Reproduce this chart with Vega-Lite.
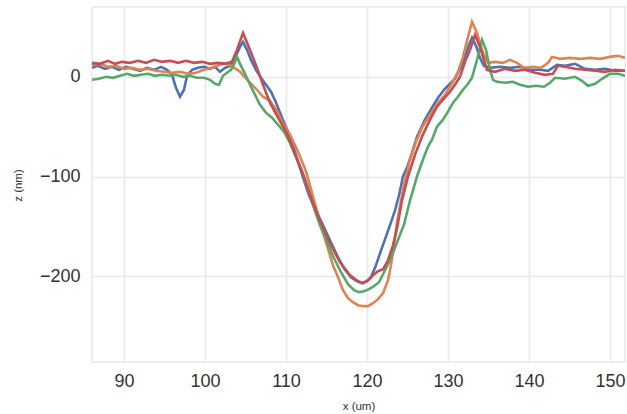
{
  "$schema": "https://vega.github.io/schema/vega-lite/v6.json",
  "width": 533,
  "height": 355,
  "autosize": "none",
  "padding": {"left": 92, "top": 7, "right": 2, "bottom": 52},
  "background": "white",
  "config": {
    "view": {"stroke": "#E8E8F0", "strokeWidth": 1.5},
    "axis": {
      "domain": false, "ticks": false, "grid": true,
      "gridColor": "#E8E8F0", "gridWidth": 1.6,
      "labelFont": "Liberation Sans", "labelFontSize": 18, "labelColor": "#333333",
      "titleFont": "Liberation Sans", "titleFontSize": 11.5, "titleFontWeight": "normal", "titleColor": "#333333"
    }
  },
  "data": {"values": [
    {"s":"b","x":86.05,"z":9},{"s":"b","x":86.79,"z":11},{"s":"b","x":87.65,"z":8},{"s":"b","x":88.52,"z":10},{"s":"b","x":89.38,"z":7},{"s":"b","x":90.25,"z":10},{"s":"b","x":91.11,"z":8},{"s":"b","x":91.98,"z":6},{"s":"b","x":92.84,"z":9},{"s":"b","x":93.70,"z":7},{"s":"b","x":94.57,"z":10},{"s":"b","x":95.31,"z":7},{"s":"b","x":95.93,"z":2},{"s":"b","x":96.42,"z":-11},{"s":"b","x":96.91,"z":-20},{"s":"b","x":97.41,"z":-13},{"s":"b","x":97.78,"z":1},{"s":"b","x":98.40,"z":7},{"s":"b","x":99.14,"z":9},{"s":"b","x":99.88,"z":10},{"s":"b","x":100.62,"z":8},{"s":"b","x":101.23,"z":10},{"s":"b","x":101.85,"z":5},{"s":"b","x":102.47,"z":9},{"s":"b","x":103.09,"z":11},{"s":"b","x":103.70,"z":19},{"s":"b","x":104.32,"z":30},{"s":"b","x":104.69,"z":35},{"s":"b","x":105.19,"z":27},{"s":"b","x":105.68,"z":17},{"s":"b","x":106.30,"z":7},{"s":"b","x":106.91,"z":-1},{"s":"b","x":107.53,"z":-8},{"s":"b","x":108.15,"z":-15},{"s":"b","x":108.77,"z":-26},{"s":"b","x":109.51,"z":-41},{"s":"b","x":110.25,"z":-55},{"s":"b","x":111.11,"z":-75},{"s":"b","x":111.98,"z":-98},{"s":"b","x":112.84,"z":-119},{"s":"b","x":113.70,"z":-134},{"s":"b","x":114.57,"z":-149},{"s":"b","x":115.43,"z":-164},{"s":"b","x":116.30,"z":-179},{"s":"b","x":117.16,"z":-192},{"s":"b","x":118.02,"z":-201},{"s":"b","x":118.77,"z":-205},{"s":"b","x":119.38,"z":-207},{"s":"b","x":120.00,"z":-205},{"s":"b","x":120.49,"z":-201},{"s":"b","x":121.11,"z":-189},{"s":"b","x":121.73,"z":-174},{"s":"b","x":122.35,"z":-160},{"s":"b","x":122.96,"z":-146},{"s":"b","x":123.46,"z":-134},{"s":"b","x":123.95,"z":-119},{"s":"b","x":124.44,"z":-100},{"s":"b","x":124.94,"z":-91},{"s":"b","x":125.56,"z":-76},{"s":"b","x":126.17,"z":-60},{"s":"b","x":127.16,"z":-43},{"s":"b","x":128.02,"z":-31},{"s":"b","x":128.77,"z":-21},{"s":"b","x":129.51,"z":-13},{"s":"b","x":130.25,"z":-7},{"s":"b","x":130.86,"z":-2},{"s":"b","x":131.48,"z":8},{"s":"b","x":132.10,"z":20},{"s":"b","x":132.59,"z":32},{"s":"b","x":132.96,"z":39},{"s":"b","x":133.46,"z":31},{"s":"b","x":133.95,"z":19},{"s":"b","x":134.44,"z":11},{"s":"b","x":135.19,"z":9},{"s":"b","x":136.42,"z":10},{"s":"b","x":137.65,"z":9},{"s":"b","x":138.89,"z":10},{"s":"b","x":140.12,"z":7},{"s":"b","x":141.36,"z":7},{"s":"b","x":142.35,"z":6},{"s":"b","x":143.46,"z":12},{"s":"b","x":144.44,"z":11},{"s":"b","x":145.68,"z":13},{"s":"b","x":146.91,"z":8},{"s":"b","x":148.15,"z":7},{"s":"b","x":149.38,"z":8},{"s":"b","x":150.62,"z":6},{"s":"b","x":151.85,"z":6},

    {"s":"o","x":86.05,"z":12},{"s":"o","x":87.04,"z":13},{"s":"o","x":88.02,"z":10},{"s":"o","x":89.01,"z":11},{"s":"o","x":90.00,"z":8},{"s":"o","x":90.99,"z":9},{"s":"o","x":91.98,"z":7},{"s":"o","x":92.96,"z":8},{"s":"o","x":93.95,"z":6},{"s":"o","x":94.94,"z":5},{"s":"o","x":95.93,"z":4},{"s":"o","x":96.91,"z":5},{"s":"o","x":97.90,"z":3},{"s":"o","x":98.89,"z":4},{"s":"o","x":99.88,"z":7},{"s":"o","x":100.86,"z":9},{"s":"o","x":101.85,"z":12},{"s":"o","x":102.72,"z":14},{"s":"o","x":103.46,"z":10},{"s":"o","x":104.32,"z":5},{"s":"o","x":105.56,"z":-6},{"s":"o","x":106.42,"z":-13},{"s":"o","x":107.16,"z":-20},{"s":"o","x":108.02,"z":-24},{"s":"o","x":108.77,"z":-33},{"s":"o","x":109.51,"z":-45},{"s":"o","x":110.49,"z":-58},{"s":"o","x":111.48,"z":-75},{"s":"o","x":112.47,"z":-95},{"s":"o","x":113.33,"z":-120},{"s":"o","x":114.20,"z":-146},{"s":"o","x":115.06,"z":-169},{"s":"o","x":115.80,"z":-189},{"s":"o","x":116.42,"z":-201},{"s":"o","x":117.04,"z":-214},{"s":"o","x":117.65,"z":-222},{"s":"o","x":118.27,"z":-226},{"s":"o","x":118.89,"z":-229},{"s":"o","x":119.51,"z":-230},{"s":"o","x":120.12,"z":-230},{"s":"o","x":120.74,"z":-227},{"s":"o","x":121.36,"z":-223},{"s":"o","x":121.98,"z":-217},{"s":"o","x":122.59,"z":-204},{"s":"o","x":122.96,"z":-189},{"s":"o","x":123.33,"z":-169},{"s":"o","x":123.70,"z":-146},{"s":"o","x":124.20,"z":-124},{"s":"o","x":124.69,"z":-104},{"s":"o","x":125.31,"z":-83},{"s":"o","x":126.05,"z":-65},{"s":"o","x":126.79,"z":-51},{"s":"o","x":127.78,"z":-38},{"s":"o","x":128.77,"z":-26},{"s":"o","x":129.63,"z":-18},{"s":"o","x":130.49,"z":-7},{"s":"o","x":131.23,"z":5},{"s":"o","x":131.85,"z":20},{"s":"o","x":132.47,"z":40},{"s":"o","x":132.96,"z":55},{"s":"o","x":133.58,"z":44},{"s":"o","x":134.32,"z":24},{"s":"o","x":134.94,"z":14},{"s":"o","x":135.80,"z":15},{"s":"o","x":136.79,"z":14},{"s":"o","x":137.65,"z":17},{"s":"o","x":138.52,"z":14},{"s":"o","x":139.38,"z":9},{"s":"o","x":140.49,"z":10},{"s":"o","x":141.48,"z":9},{"s":"o","x":142.35,"z":14},{"s":"o","x":142.84,"z":20},{"s":"o","x":143.83,"z":18},{"s":"o","x":145.06,"z":19},{"s":"o","x":146.30,"z":18},{"s":"o","x":147.53,"z":19},{"s":"o","x":148.77,"z":18},{"s":"o","x":150.00,"z":20},{"s":"o","x":150.99,"z":21},{"s":"o","x":151.85,"z":19},

    {"s":"g","x":86.05,"z":-3},{"s":"g","x":86.91,"z":-2},{"s":"g","x":87.78,"z":0},{"s":"g","x":88.64,"z":-1},{"s":"g","x":89.51,"z":1},{"s":"g","x":90.37,"z":3},{"s":"g","x":91.23,"z":1},{"s":"g","x":92.10,"z":2},{"s":"g","x":92.96,"z":3},{"s":"g","x":93.83,"z":1},{"s":"g","x":94.69,"z":2},{"s":"g","x":95.56,"z":1},{"s":"g","x":96.42,"z":2},{"s":"g","x":97.28,"z":0},{"s":"g","x":98.15,"z":1},{"s":"g","x":99.01,"z":-1},{"s":"g","x":99.88,"z":-1},{"s":"g","x":100.62,"z":-3},{"s":"g","x":101.23,"z":-7},{"s":"g","x":101.73,"z":-8},{"s":"g","x":102.22,"z":1},{"s":"g","x":102.72,"z":4},{"s":"g","x":103.21,"z":7},{"s":"g","x":103.70,"z":15},{"s":"g","x":103.95,"z":20},{"s":"g","x":104.44,"z":11},{"s":"g","x":104.94,"z":3},{"s":"g","x":105.56,"z":-8},{"s":"g","x":106.17,"z":-18},{"s":"g","x":106.79,"z":-28},{"s":"g","x":107.53,"z":-36},{"s":"g","x":108.27,"z":-41},{"s":"g","x":109.01,"z":-48},{"s":"g","x":109.75,"z":-55},{"s":"g","x":110.49,"z":-66},{"s":"g","x":111.23,"z":-80},{"s":"g","x":111.98,"z":-95},{"s":"g","x":112.72,"z":-114},{"s":"g","x":113.46,"z":-132},{"s":"g","x":114.20,"z":-149},{"s":"g","x":115.06,"z":-166},{"s":"g","x":115.93,"z":-182},{"s":"g","x":116.79,"z":-196},{"s":"g","x":117.65,"z":-208},{"s":"g","x":118.40,"z":-214},{"s":"g","x":119.01,"z":-216},{"s":"g","x":119.63,"z":-215},{"s":"g","x":120.25,"z":-213},{"s":"g","x":120.86,"z":-210},{"s":"g","x":121.48,"z":-206},{"s":"g","x":122.10,"z":-196},{"s":"g","x":122.72,"z":-186},{"s":"g","x":123.33,"z":-174},{"s":"g","x":123.95,"z":-161},{"s":"g","x":124.57,"z":-148},{"s":"g","x":125.31,"z":-124},{"s":"g","x":126.17,"z":-100},{"s":"g","x":126.91,"z":-83},{"s":"g","x":127.53,"z":-70},{"s":"g","x":128.02,"z":-63},{"s":"g","x":128.64,"z":-50},{"s":"g","x":129.38,"z":-43},{"s":"g","x":130.00,"z":-35},{"s":"g","x":130.62,"z":-26},{"s":"g","x":131.23,"z":-20},{"s":"g","x":131.85,"z":-13},{"s":"g","x":132.47,"z":-7},{"s":"g","x":132.96,"z":-1},{"s":"g","x":133.58,"z":17},{"s":"g","x":134.20,"z":37},{"s":"g","x":134.69,"z":27},{"s":"g","x":135.19,"z":7},{"s":"g","x":135.56,"z":-3},{"s":"g","x":136.05,"z":-5},{"s":"g","x":137.04,"z":-6},{"s":"g","x":138.02,"z":-5},{"s":"g","x":138.89,"z":-8},{"s":"g","x":139.88,"z":-10},{"s":"g","x":140.86,"z":-9},{"s":"g","x":141.85,"z":-10},{"s":"g","x":142.59,"z":-6},{"s":"g","x":143.21,"z":-1},{"s":"g","x":144.44,"z":-2},{"s":"g","x":145.68,"z":0},{"s":"g","x":146.54,"z":-4},{"s":"g","x":147.28,"z":-9},{"s":"g","x":148.15,"z":-7},{"s":"g","x":149.01,"z":-2},{"s":"g","x":150.00,"z":3},{"s":"g","x":150.99,"z":3},{"s":"g","x":151.85,"z":1},

    {"s":"r","x":86.05,"z":14},{"s":"r","x":87.04,"z":13},{"s":"r","x":88.02,"z":16},{"s":"r","x":88.89,"z":13},{"s":"r","x":89.75,"z":15},{"s":"r","x":90.74,"z":14},{"s":"r","x":91.73,"z":16},{"s":"r","x":92.72,"z":14},{"s":"r","x":93.70,"z":17},{"s":"r","x":94.69,"z":15},{"s":"r","x":95.68,"z":16},{"s":"r","x":96.67,"z":14},{"s":"r","x":97.65,"z":16},{"s":"r","x":98.64,"z":14},{"s":"r","x":99.63,"z":15},{"s":"r","x":100.62,"z":13},{"s":"r","x":101.60,"z":14},{"s":"r","x":102.59,"z":13},{"s":"r","x":103.33,"z":15},{"s":"r","x":103.95,"z":27},{"s":"r","x":104.69,"z":44},{"s":"r","x":105.56,"z":27},{"s":"r","x":106.42,"z":9},{"s":"r","x":107.16,"z":-8},{"s":"r","x":108.02,"z":-26},{"s":"r","x":109.01,"z":-41},{"s":"r","x":110.00,"z":-55},{"s":"r","x":111.11,"z":-78},{"s":"r","x":112.22,"z":-100},{"s":"r","x":113.21,"z":-124},{"s":"r","x":114.20,"z":-144},{"s":"r","x":115.43,"z":-167},{"s":"r","x":116.67,"z":-186},{"s":"r","x":117.90,"z":-199},{"s":"r","x":118.89,"z":-205},{"s":"r","x":119.51,"z":-207},{"s":"r","x":120.12,"z":-204},{"s":"r","x":120.74,"z":-199},{"s":"r","x":121.36,"z":-195},{"s":"r","x":121.98,"z":-193},{"s":"r","x":122.59,"z":-184},{"s":"r","x":123.21,"z":-169},{"s":"r","x":123.70,"z":-152},{"s":"r","x":124.32,"z":-124},{"s":"r","x":125.06,"z":-100},{"s":"r","x":125.93,"z":-78},{"s":"r","x":126.79,"z":-60},{"s":"r","x":127.78,"z":-43},{"s":"r","x":128.64,"z":-30},{"s":"r","x":129.38,"z":-23},{"s":"r","x":130.25,"z":-15},{"s":"r","x":130.86,"z":-8},{"s":"r","x":131.48,"z":0},{"s":"r","x":132.10,"z":15},{"s":"r","x":132.72,"z":27},{"s":"r","x":133.33,"z":42},{"s":"r","x":133.95,"z":30},{"s":"r","x":134.44,"z":17},{"s":"r","x":134.81,"z":7},{"s":"r","x":135.80,"z":5},{"s":"r","x":137.04,"z":8},{"s":"r","x":138.27,"z":6},{"s":"r","x":139.51,"z":7},{"s":"r","x":140.74,"z":4},{"s":"r","x":141.98,"z":2},{"s":"r","x":142.96,"z":3},{"s":"r","x":143.58,"z":11},{"s":"r","x":144.44,"z":10},{"s":"r","x":145.68,"z":8},{"s":"r","x":146.91,"z":7},{"s":"r","x":148.15,"z":6},{"s":"r","x":149.38,"z":5},{"s":"r","x":150.62,"z":7},{"s":"r","x":151.85,"z":6}
  ]},
  "mark": {"type": "line", "strokeWidth": 2.6, "clip": true},
  "encoding": {
    "x": {"field": "x", "type": "quantitative",
      "scale": {"domain": [86.05, 151.85], "nice": false, "zero": false},
      "axis": {"title": "x (um)", "values": [90, 100, 110, 120, 130, 140, 150], "labelPadding": 10, "titleY": 44, "titleBaseline": "middle"}},
    "y": {"field": "z", "type": "quantitative",
      "scale": {"domain": [-286, 70], "nice": false, "zero": false},
      "axis": {"title": "z (nm)", "values": [-200, -100, 0], "labelPadding": 12, "titleX": -74, "titleY": 178, "titleAngle": -90, "titleAlign": "center", "titleBaseline": "middle"}},
    "color": {"field": "s", "type": "nominal", "legend": null,
      "scale": {"domain": ["b", "o", "g", "r"], "range": ["#4C72B0", "#DD8452", "#55A868", "#C44E52"]}},
    "order": {"field": "x", "type": "quantitative"}
  }
}
